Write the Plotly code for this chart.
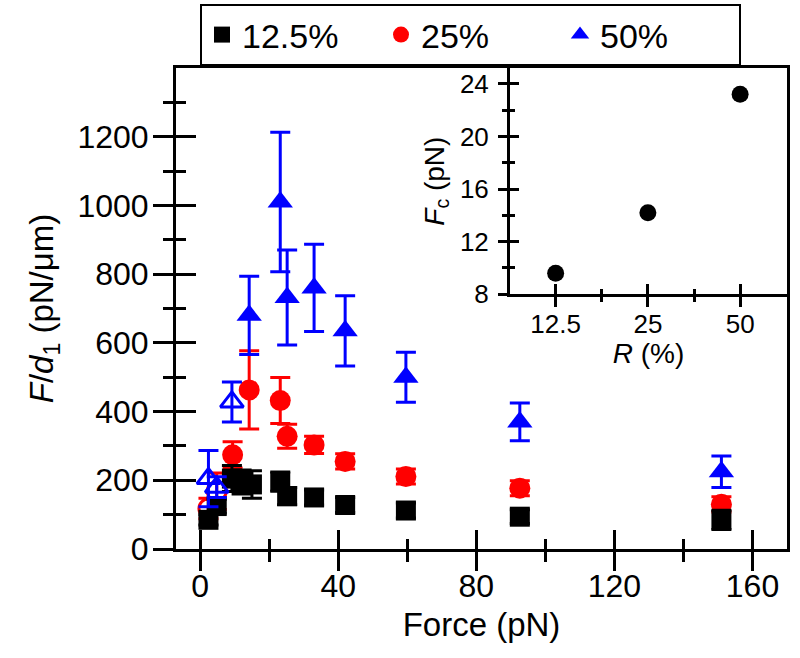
import math
import plotly.graph_objects as go

# ---------------- data ----------------
force_125 = [2.4, 4.8, 9.2, 12.0, 15.0, 23.2, 25.2, 33.0, 42.0, 59.6, 92.6, 151.0]
fd_125 = [85, 125, 205, 195, 188, 196, 154, 150, 128, 112, 94, 85]
err_125 = [15, 20, 38, 35, 40, 28, 25, 22, 22, 22, 20, 28]
open_125 = 0

force_25 = [2.4, 4.8, 9.4, 14.2, 23.2, 25.2, 33.0, 42.0, 59.6, 92.6, 151.0]
fd_25 = [118, 168, 274, 463, 432, 328, 303, 255, 211, 177, 130]
err_25 = [30, 53, 38, 114, 67, 35, 25, 22, 22, 22, 22]
open_25 = 2

force_50 = [2.4, 4.8, 9.2, 14.2, 23.2, 25.2, 33.0, 42.0, 59.6, 92.6, 151.0]
fd_50 = [205, 180, 428, 680, 1010, 732, 760, 635, 500, 370, 225]
err_50 = [82, 30, 58, 114, 203, 138, 127, 102, 73, 55, 46]
open_50 = 3

labels = ["12.5%", "25%", "50%"]

inset_R = [12.5, 25, 50]
inset_Fc = [9.6, 14.2, 23.2]
inset_ticktext = ["12.5", "25", "50"]

x_major = [0, 40, 80, 120, 160]
x_minor = [20, 60, 100, 140]
y_major = [0, 200, 400, 600, 800, 1000, 1200]
y_minor = [100, 300, 500, 700, 900, 1100, 1300]
inset_y_major = [8, 12, 16, 20, 24]
inset_y_minor = [10, 14, 18, 22]

# ---------------- figure ----------------
FONT = "Liberation Sans, Arial, sans-serif"
fig = go.Figure()

def add_series(xs, ys, es, n_open, color, sym, size, name, rank):
    eb = dict(type="data", array=es[n_open:], color=color, thickness=3, width=10)
    fig.add_trace(go.Scatter(
        x=xs[n_open:], y=ys[n_open:], mode="markers", name=name, legendrank=rank,
        marker=dict(symbol=sym, size=size, color=color, line=dict(width=0)),
        error_y=eb, cliponaxis=False))
    if n_open:
        fig.add_trace(go.Scatter(
            x=xs[:n_open], y=ys[:n_open], mode="markers", showlegend=False,
            marker=dict(symbol=sym + "-open", size=size - 2, color=color,
                        line=dict(width=3, color=color)),
            error_y=dict(type="data", array=es[:n_open], color=color,
                         thickness=3, width=10), cliponaxis=False))

add_series(force_25, fd_25, err_25, open_25, "#ff0000", "circle", 21, labels[1], 2)
add_series(force_125, fd_125, err_125, open_125, "#000000", "square", 20, labels[0], 1)
add_series(force_50, fd_50, err_50, open_50, "#0000ff", "triangle-up", 22, labels[2], 3)

# invisible trace carrying the inner-tick overlay axes
fig.add_trace(go.Scatter(x=force_125, y=fd_125, xaxis="x3", yaxis="y3",
                         mode="markers", marker=dict(opacity=0),
                         showlegend=False, hoverinfo="skip"))

# inset
fig.add_trace(go.Scatter(x=inset_R, y=inset_Fc, xaxis="x2", yaxis="y2",
                         mode="markers", showlegend=False,
                         marker=dict(symbol="circle", size=17, color="black")))
fig.add_trace(go.Scatter(x=inset_R, y=inset_Fc, xaxis="x4", yaxis="y4",
                         mode="markers", marker=dict(opacity=0),
                         showlegend=False, hoverinfo="skip"))

W, H = 800, 658
ml, mr, mt, mb = 176, 13, 68, 109
xr = [-7, 170]
yr = [0, 1400]

inset_dom_x = [(510 - ml) / (W - ml - mr), 1]
inset_dom_y = [(H - mb - 294.3) / (H - mt - mb), 1]
inset_minor = [math.sqrt(inset_R[0] * inset_R[1]), math.sqrt(inset_R[1] * inset_R[2])]
inset_xr = [math.log10(inset_R[0]) - 0.149, math.log10(inset_R[2]) + 0.153]
inset_yr = [8, 25.2]

common = dict(showgrid=False, zeroline=False, linecolor="black", tickcolor="black",
              tickwidth=3)

fig.update_layout(
    width=W, height=H,
    margin=dict(l=ml, r=mr, t=mt, b=mb, autoexpand=False),
    paper_bgcolor="white", plot_bgcolor="rgba(0,0,0,0)",
    font=dict(family=FONT, color="black"),
    showlegend=True,
    legend=dict(orientation="h", xref="container", yref="container",
                x=200 / W, y=1 - 4 / H, xanchor="left", yanchor="top",
                bordercolor="black", borderwidth=2, bgcolor="white",
                font=dict(size=34, family=FONT), entrywidth=134,
                entrywidthmode="pixels", itemsizing="trace", tracegroupgap=0),
    xaxis=dict(range=xr, showline=True, linewidth=3, mirror=True,
               tickmode="array", tickvals=x_major, ticks="outside", ticklen=19,
               minor=dict(tickmode="array", tickvals=x_minor, ticks="outside",
                          ticklen=10, tickwidth=3, tickcolor="black"),
               tickfont=dict(size=32), ticklabelstandoff=-12,
               title=dict(text="Force (pN)", font=dict(size=33), standoff=10),
               **common),
    xaxis3=dict(range=xr, overlaying="x", anchor="y", side="bottom",
                showline=False, showticklabels=False,
                tickmode="array", tickvals=x_major, ticks="inside", ticklen=19,
                minor=dict(tickmode="array", tickvals=x_minor, ticks="inside",
                           ticklen=10, tickwidth=3, tickcolor="black"),
                **common),
    yaxis=dict(range=yr, showline=True, linewidth=3, mirror=True,
               tickmode="array", tickvals=y_major, ticks="outside", ticklen=20,
               minor=dict(tickmode="array", tickvals=y_minor, ticks="outside",
                          ticklen=10, tickwidth=3, tickcolor="black"),
               tickfont=dict(size=32), ticklabelstandoff=-2,
               title=dict(text="<i>F</i>/<i>d</i><sub>1</sub> (pN/μm)",
                          font=dict(size=33), standoff=14),
               **common),
    yaxis3=dict(range=yr, overlaying="y", anchor="x", side="left",
                showline=False, showticklabels=False,
                tickmode="array", tickvals=y_major, ticks="inside", ticklen=20,
                minor=dict(tickmode="array", tickvals=y_minor, ticks="inside",
                           ticklen=10, tickwidth=3, tickcolor="black"),
                **common),
    xaxis2=dict(type="log", range=inset_xr, domain=inset_dom_x, anchor="y2",
                showline=True, linewidth=3,
                tickmode="array", tickvals=inset_R, ticktext=inset_ticktext,
                ticks="outside", ticklen=10,
                minor=dict(tickmode="array", tickvals=inset_minor, ticks="outside",
                           ticklen=5, tickwidth=3, tickcolor="black"),
                tickfont=dict(size=26), ticklabelstandoff=-6,
                title=dict(text="<i>R</i> (%)", font=dict(size=28), standoff=2),
                **common),
    xaxis4=dict(type="log", range=inset_xr, overlaying="x2", anchor="y2",
                showline=False, showticklabels=False,
                tickmode="array", tickvals=inset_R, ticks="inside", ticklen=10,
                minor=dict(tickmode="array", tickvals=inset_minor, ticks="inside",
                           ticklen=5, tickwidth=3, tickcolor="black"),
                **common),
    yaxis2=dict(range=inset_yr, domain=inset_dom_y, anchor="x2",
                showline=True, linewidth=3,
                tickmode="array", tickvals=inset_y_major, ticks="outside", ticklen=9,
                minor=dict(tickmode="array", tickvals=inset_y_minor, ticks="outside",
                           ticklen=5, tickwidth=3, tickcolor="black"),
                tickfont=dict(size=26), ticklabelstandoff=4,
                title=dict(text="<i>F</i><sub>c</sub> (pN)", font=dict(size=28),
                           standoff=8),
                **common),
    yaxis4=dict(range=inset_yr, overlaying="y2", anchor="x2", side="left",
                showline=False, showticklabels=False,
                tickmode="array", tickvals=inset_y_major, ticks="inside", ticklen=9,
                minor=dict(tickmode="array", tickvals=inset_y_minor, ticks="inside",
                           ticklen=5, tickwidth=3, tickcolor="black"),
                **common),
)

fig.write_html("out.html",
               config={"displayModeBar": False},
               post_script="document.body.style.margin='0px';")
